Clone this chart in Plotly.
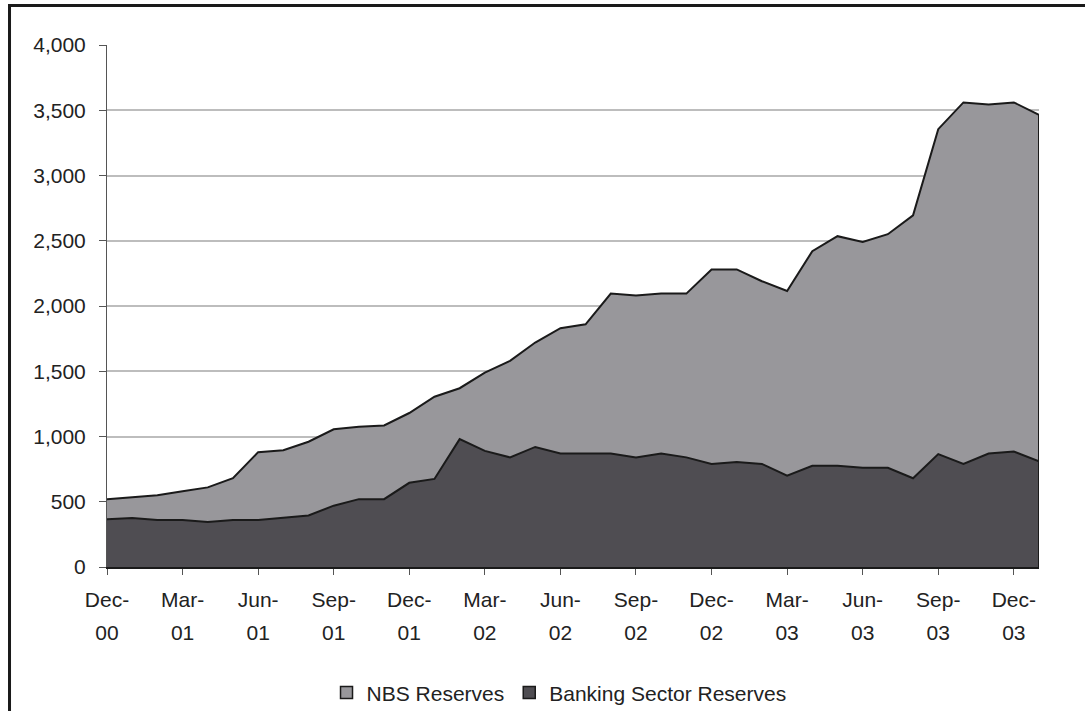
import plotly.graph_objects as go

months = ["Dec-00", "Jan-01", "Feb-01", "Mar-01", "Apr-01", "May-01", "Jun-01", "Jul-01",
          "Aug-01", "Sep-01", "Oct-01", "Nov-01", "Dec-01", "Jan-02", "Feb-02", "Mar-02",
          "Apr-02", "May-02", "Jun-02", "Jul-02", "Aug-02", "Sep-02", "Oct-02", "Nov-02",
          "Dec-02", "Jan-03", "Feb-03", "Mar-03", "Apr-03", "May-03", "Jun-03", "Jul-03",
          "Aug-03", "Sep-03", "Oct-03", "Nov-03", "Dec-03", "Jan-04"]

banking = [365, 375, 360, 360, 345, 360, 360, 375, 395, 470, 520, 520, 645, 675, 980, 890,
           840, 920, 870, 870, 870, 840, 870, 840, 790, 805, 790, 700, 775, 775, 760, 760,
           680, 865, 790, 870, 885, 810]

nbs = [155, 160, 190, 220, 265, 320, 520, 520, 565, 585, 555, 565, 535, 630, 390, 600,
       740, 800, 960, 990, 1225, 1240, 1225, 1255, 1490, 1475, 1400, 1415, 1645, 1760, 1730,
       1790, 2015, 2490, 2770, 2675, 2675, 2655]

series_names = ["NBS Reserves", "Banking Sector Reserves"]
y_ticks = [0, 500, 1000, 1500, 2000, 2500, 3000, 3500, 4000]

idx = list(range(len(months)))
tick_idx = idx[::3]
tick_top = [months[i].split("-")[0] + "-" for i in tick_idx]
tick_year = [months[i].split("-")[1] for i in tick_idx]

C_NBS = "#98979b"
C_BANK = "#4f4d52"
FONT = "Liberation Sans, Arial, sans-serif"
FS = 21

fig = go.Figure()
fig.add_trace(go.Scatter(x=idx, y=banking, stackgroup="s", mode="lines",
                         line=dict(color="#1a1a1a", width=2), fillcolor=C_BANK,
                         name=series_names[1], showlegend=False, hoverinfo="skip"))
fig.add_trace(go.Scatter(x=idx, y=nbs, stackgroup="s", mode="lines",
                         line=dict(color="#1a1a1a", width=2), fillcolor=C_NBS,
                         name=series_names[0], showlegend=False, hoverinfo="skip"))
last = len(months) - 1
fig.add_trace(go.Scatter(x=[last, last], y=[0, banking[last] + nbs[last]], mode="lines",
                         line=dict(color="#1a1a1a", width=2), showlegend=False,
                         hoverinfo="skip", xaxis="x2"))
# legend entries
fig.add_trace(go.Bar(x=[None], y=[None], name=series_names[0],
                     marker=dict(color=C_NBS, line=dict(color="#1a1a1a", width=1.5))))
fig.add_trace(go.Bar(x=[None], y=[None], name=series_names[1],
                     marker=dict(color=C_BANK, line=dict(color="#1a1a1a", width=1.5))))

fig.update_layout(
    width=1085, height=711,
    margin=dict(l=107, r=46, t=45, b=144, autoexpand=False),
    paper_bgcolor="white", plot_bgcolor="white",
    font=dict(family=FONT, size=FS, color="#222222"),
    showlegend=True,
    legend=dict(orientation="h", x=0.485, xanchor="center", y=-0.241, yanchor="middle",
                font=dict(size=FS), traceorder="normal", itemwidth=30),
    xaxis=dict(range=[0, last], tickmode="array", tickvals=tick_idx, ticktext=tick_top,
               ticks="outside", ticklen=6, tickcolor="#555555", tickwidth=1,
               showgrid=False, zeroline=False, showline=True, linecolor="#1a1a1a",
               linewidth=2, tickfont=dict(size=FS), ticklabelstandoff=7),
    xaxis2=dict(range=[0, last], overlaying="x", side="bottom", anchor="y",
                tickmode="array", tickvals=tick_idx, ticktext=tick_year,
                ticks="", showgrid=False, zeroline=False, showline=False,
                ticklabelstandoff=51, tickfont=dict(size=FS)),
    yaxis=dict(range=[0, 4000], tickmode="array", tickvals=y_ticks,
               ticktext=[f"{v:,}" for v in y_ticks],
               ticks="outside", ticklen=7, tickcolor="#555555", tickwidth=1,
               showgrid=True, gridcolor="#bdbdbd", gridwidth=1.5,
               zeroline=False, showline=True, linecolor="#555555", linewidth=1,
               tickfont=dict(size=FS), ticklabelstandoff=9),
    shapes=[dict(type="rect", xref="paper", yref="paper",
                 x0=-0.1046, x1=1.08, y0=-0.40, y1=1.0757,
                 line=dict(color="#1a1a1a", width=3), fillcolor="rgba(0,0,0,0)",
                 layer="above")],
)

fig.write_html("out.html", config={"displayModeBar": False},
               post_script="document.body.style.margin='0';document.body.style.overflow='hidden';")
